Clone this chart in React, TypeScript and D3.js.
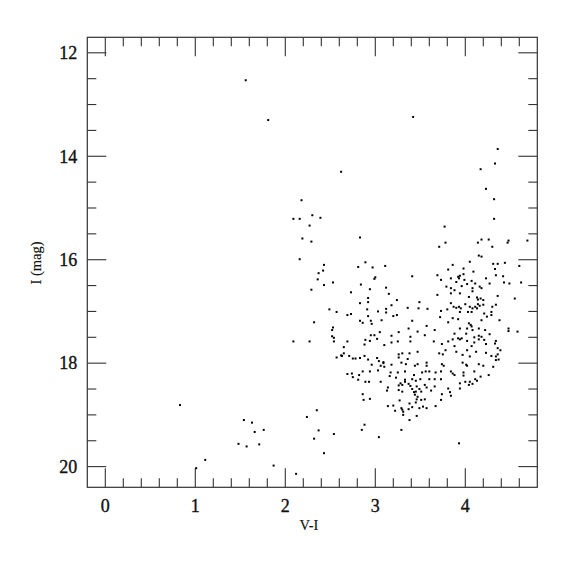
import * as d3 from "d3";

const MARGIN = { left: 87.3, top: 37.3, right: 37.7, bottom: 87.7 };
const SIZE = 575;

// [V-I, I] pairs
const brightStars = [
  [1.56, 12.53], [1.81, 13.3], [3.42, 13.24], [2.62, 14.3], [4.36, 13.86], [4.33, 14.14],
  [4.17, 14.25], [4.23, 14.63], [4.32, 14.83], [4.32, 15.21], [3.77, 15.36],
];

const faintBlue = [
  [0.83, 18.81], [1.01, 20.03], [1.11, 19.87], [1.48, 19.56], [1.54, 19.1], [1.57, 19.61],
  [1.63, 19.15], [1.66, 19.33], [1.71, 19.57], [1.76, 19.29], [1.87, 19.98], [2.12, 20.14],
  [2.43, 19.74], [2.32, 19.46], [2.37, 19.3], [2.24, 19.04], [2.35, 18.91], [2.54, 19.37],
  [2.85, 19.29], [2.88, 19.19], [3.04, 19.43], [3.29, 19.29], [3.38, 19.1], [3.93, 19.55],
];

const subgiants = [
  [2.18, 14.85], [2.09, 15.21], [2.16, 15.21], [2.3, 15.14], [2.39, 15.19], [2.27, 15.34],
  [2.19, 15.59], [2.29, 15.65], [2.16, 15.99], [2.43, 16.1], [2.42, 16.21], [2.37, 16.26],
  [2.36, 16.38], [2.53, 16.44], [2.43, 16.49], [2.29, 16.58], [2.49, 16.96], [2.57, 17.01],
  [2.69, 17.07], [2.73, 17.05], [2.32, 17.21], [2.53, 17.31], [2.52, 17.36], [2.52, 17.48],
  [2.54, 17.51], [2.54, 17.58], [2.09, 17.58], [2.27, 17.58], [2.69, 17.58], [2.65, 17.69],
  [2.65, 17.81], [2.62, 17.85], [2.63, 17.86], [2.57, 17.89], [2.73, 16.63],
];

const midBranch = [
  [2.83, 15.57], [2.81, 16.14], [2.89, 16.05], [2.97, 16.15], [3.11, 16.12], [3.0, 16.34],
  [2.99, 16.37], [2.84, 16.48], [2.94, 16.57], [3.12, 16.54], [3.15, 16.66], [3.24, 16.78],
  [2.92, 16.74], [2.92, 16.82], [2.83, 16.84], [3.18, 16.88], [2.91, 16.96], [3.12, 16.95],
  [3.12, 17.02], [3.03, 17.0], [2.92, 17.09], [3.2, 17.09], [3.24, 17.07], [2.83, 17.18],
  [2.86, 17.22], [2.95, 17.18], [2.96, 17.24], [3.07, 17.17], [3.05, 17.4], [3.26, 17.4],
  [2.95, 17.46], [2.99, 17.46], [3.02, 17.53], [2.89, 17.55], [2.94, 17.57], [3.18, 17.47],
  [3.25, 17.58], [2.88, 17.64], [3.1, 17.65], [3.18, 17.6], [2.71, 17.86], [2.75, 17.91],
  [2.78, 17.91], [2.83, 17.9], [2.88, 17.86], [2.92, 17.93], [3.02, 17.9], [3.26, 17.83],
  [3.04, 17.96], [3.09, 17.98], [3.09, 18.0], [3.26, 17.89],
];

const lowerBranch = [
  [2.96, 18.03], [3.06, 18.05], [3.1, 18.07], [3.18, 18.03], [2.86, 18.16], [2.94, 18.16],
  [3.03, 18.14], [2.69, 18.21], [2.74, 18.2], [2.82, 18.23], [2.75, 18.27], [2.81, 18.32],
  [3.17, 18.18], [3.16, 18.25], [3.23, 18.28], [3.25, 18.18], [2.89, 18.36], [2.93, 18.36],
  [3.06, 18.36], [3.26, 18.43], [3.14, 18.47], [3.13, 18.53], [3.26, 18.52], [2.86, 18.6],
  [2.94, 18.69], [2.87, 18.71], [3.27, 18.72], [3.14, 18.83], [3.2, 18.82], [3.22, 18.92],
];

const redUpper = [
  [3.71, 15.75], [3.78, 15.67], [4.14, 15.67], [4.18, 15.61], [4.26, 15.61], [4.3, 15.75],
  [4.47, 15.67], [4.48, 15.63], [4.69, 15.63], [4.15, 15.92], [4.18, 15.94],
  [3.81, 16.19], [3.86, 16.1], [4.05, 16.04], [3.98, 16.17], [4.31, 16.08], [4.36, 16.08],
  [4.33, 16.18], [4.44, 16.06], [4.6, 16.12], [3.41, 16.32], [3.69, 16.3], [3.73, 16.39],
  [3.84, 16.36], [3.92, 16.33], [3.94, 16.31], [3.93, 16.36], [3.9, 16.43], [3.98, 16.28],
  [4.09, 16.23], [3.99, 16.39], [4.02, 16.47], [4.07, 16.41], [4.11, 16.46], [4.23, 16.36],
  [4.27, 16.46], [4.34, 16.3], [4.42, 16.32], [4.43, 16.44], [4.49, 16.46], [4.62, 16.44],
  [3.79, 16.52], [3.84, 16.55], [3.88, 16.59], [3.96, 16.51], [4.08, 16.55], [4.08, 16.61],
  [4.16, 16.52], [4.18, 16.55], [3.69, 16.68], [3.84, 16.65], [3.94, 16.65], [4.04, 16.72],
  [4.13, 16.73], [4.14, 16.77], [4.17, 16.75], [4.2, 16.78], [4.36, 16.7], [4.55, 16.75],
];

const redMiddle = [
  [3.49, 16.82], [3.36, 16.93], [3.48, 16.94], [3.58, 16.95], [3.84, 16.84], [3.87, 16.91],
  [3.9, 16.93], [3.93, 16.91], [3.95, 16.94], [4.0, 16.86], [4.05, 16.91], [4.08, 16.94],
  [4.11, 16.91], [4.14, 16.86], [4.16, 16.89], [4.2, 16.87], [4.3, 16.91], [4.34, 16.87],
  [3.8, 16.96], [3.73, 16.99], [3.94, 17.01], [4.03, 17.01], [4.07, 17.01], [4.13, 16.94],
  [4.21, 17.04], [4.29, 17.01], [4.29, 17.07], [3.41, 17.18], [3.72, 17.11], [3.81, 17.21],
  [3.86, 17.13], [3.92, 17.15], [4.04, 17.23], [4.06, 17.26], [4.18, 17.17], [4.24, 17.1],
  [4.38, 17.17], [3.57, 17.28], [3.66, 17.36], [3.94, 17.33], [4.02, 17.33], [4.07, 17.29],
  [4.08, 17.36], [4.15, 17.33], [4.22, 17.36], [4.48, 17.33], [4.48, 17.38], [4.58, 17.39],
  [3.37, 17.33], [3.47, 17.39], [3.55, 17.46], [3.88, 17.43], [3.92, 17.52], [3.94, 17.54],
  [3.96, 17.52], [4.01, 17.43], [4.1, 17.5], [4.15, 17.47], [4.18, 17.49], [4.21, 17.55],
  [4.27, 17.44], [4.34, 17.57], [3.39, 17.49], [3.39, 17.58], [3.65, 17.58], [3.74, 17.63],
  [3.81, 17.58], [3.86, 17.54], [3.88, 17.67], [4.02, 17.57], [4.07, 17.67], [4.1, 17.6],
  [4.15, 17.54], [4.23, 17.63], [4.33, 17.62], [4.36, 17.71], [4.39, 17.75], [3.3, 17.81],
  [3.38, 17.81], [3.47, 17.78], [3.71, 17.81], [3.75, 17.83], [3.78, 17.75], [3.9, 17.78],
  [3.97, 17.84], [4.02, 17.75], [4.05, 17.87], [4.12, 17.78], [4.23, 17.8], [4.29, 17.86],
  [4.34, 17.87], [4.36, 17.83], [3.36, 17.92],
];

const redLower = [
  [4.37, 17.93], [4.34, 17.94], [3.29, 17.99], [3.34, 18.02], [3.44, 18.05], [3.47, 18.02],
  [3.57, 17.99], [3.57, 18.05], [3.74, 18.02], [3.76, 18.05], [3.97, 17.99], [4.01, 18.03],
  [4.02, 18.05], [4.15, 18.02], [4.2, 18.05], [4.31, 18.07], [3.33, 18.16], [3.43, 18.23],
  [3.52, 18.18], [3.56, 18.16], [3.6, 18.16], [3.67, 18.18], [3.73, 18.16], [3.84, 18.16],
  [3.86, 18.2], [3.88, 18.23], [3.98, 18.18], [3.98, 18.24], [4.1, 18.16], [4.26, 18.23],
  [3.33, 18.32], [3.41, 18.31], [3.45, 18.34], [3.5, 18.31], [3.6, 18.31], [3.66, 18.31],
  [3.73, 18.31], [3.94, 18.39], [4.0, 18.36], [4.05, 18.36], [4.11, 18.31], [4.17, 18.26],
  [3.28, 18.39], [3.3, 18.42], [3.33, 18.36], [3.37, 18.4], [3.39, 18.44], [3.46, 18.45],
  [3.55, 18.42], [3.57, 18.47], [3.66, 18.45], [3.94, 18.49], [4.04, 18.42], [4.08, 18.4],
  [4.13, 18.34], [3.3, 18.55], [3.41, 18.5], [3.43, 18.56], [3.45, 18.55], [3.49, 18.5],
  [3.51, 18.55], [3.62, 18.53], [3.81, 18.49], [3.83, 18.56], [3.74, 18.6], [3.84, 18.63],
  [3.44, 18.61], [3.47, 18.65], [3.46, 18.7], [3.51, 18.71], [3.55, 18.7], [3.73, 18.71],
  [3.38, 18.78], [3.41, 18.85], [3.45, 18.76], [3.49, 18.87], [3.53, 18.84], [3.57, 18.87],
  [3.67, 18.83], [3.29, 18.87], [3.3, 18.9], [3.31, 18.94], [3.31, 19.0], [3.37, 18.89],
  [3.46, 19.02],
];

const xMajorTicks = [0, 1, 2, 3, 4];
const yMajorTicks = [12, 14, 16, 18, 20];

const stars = [
  ...brightStars, ...faintBlue, ...subgiants, ...midBranch,
  ...lowerBranch, ...redUpper, ...redMiddle, ...redLower,
];

const ink = "#333";
const FONT = "'Liberation Serif', 'DejaVu Serif', serif";

export default function App() {
  const x0 = MARGIN.left;
  const x1 = SIZE - MARGIN.right;
  const y0 = MARGIN.top;
  const y1 = SIZE - MARGIN.bottom;

  const x = d3.scaleLinear().domain([-0.2, 4.8]).range([x0, x1]);
  const y = d3.scaleLinear().domain([11.7, 20.4]).range([y0, y1]);

  // minor ticks every 0.2 in V-I, every 0.5 mag in I
  const xMinor = d3.range(0, 25).map((i) => +(i * 0.2).toFixed(1)).filter((v) => v < 4.8);
  const yMinor = d3.range(24, 41).map((i) => i * 0.5);
  const MAJOR = 19;
  const MINOR = 9;

  return (
    <svg
      width={SIZE}
      height={SIZE}
      style={{ position: "absolute", left: 0, top: 0, background: "#fff" }}
    >
      <rect x={x0} y={y0} width={x1 - x0} height={y1 - y0} fill="none" stroke={ink} strokeWidth={1.2} />

      {xMinor.map((v) => {
        const len = xMajorTicks.includes(v) ? MAJOR : MINOR;
        const px = x(v);
        return (
          <g key={"xt" + v}>
            <line x1={px} x2={px} y1={y1} y2={y1 - len} stroke={ink} strokeWidth={1.1} />
            <line x1={px} x2={px} y1={y0} y2={y0 + len} stroke={ink} strokeWidth={1.1} />
          </g>
        );
      })}
      {yMinor.map((v) => {
        const len = yMajorTicks.includes(v) ? MAJOR : MINOR;
        const py = y(v);
        return (
          <g key={"yt" + v}>
            <line x1={x0} x2={x0 + len} y1={py} y2={py} stroke={ink} strokeWidth={1.1} />
            <line x1={x1} x2={x1 - len} y1={py} y2={py} stroke={ink} strokeWidth={1.1} />
          </g>
        );
      })}

      <g fontFamily={FONT} fontSize={18} fill="#111" stroke="#111" strokeWidth={0.35}>
        {xMajorTicks.map((v) => (
          <text key={"xl" + v} x={x(v)} y={y1 + 25} textAnchor="middle">
            {v}
          </text>
        ))}
        {yMajorTicks.map((v) => (
          <text key={"yl" + v} x={x0 - 10} y={y(v) + 6.3} textAnchor="end">
            {v}
          </text>
        ))}
      </g>

      <g fontFamily={FONT} fontSize={14.5} fill="#111" stroke="#111" strokeWidth={0.15}>
        <text x={309} y={529.5} textAnchor="middle">
          V-I
        </text>
        <text transform={`translate(${40.5}, ${263}) rotate(-90)`} textAnchor="middle">
          I (mag)
        </text>
      </g>

      <g fill="#000">
        {stars.map((d, i) => (
          <rect key={i} x={x(d[0]) - 1} y={y(d[1]) - 1} width={2} height={2} />
        ))}
      </g>
    </svg>
  );
}
